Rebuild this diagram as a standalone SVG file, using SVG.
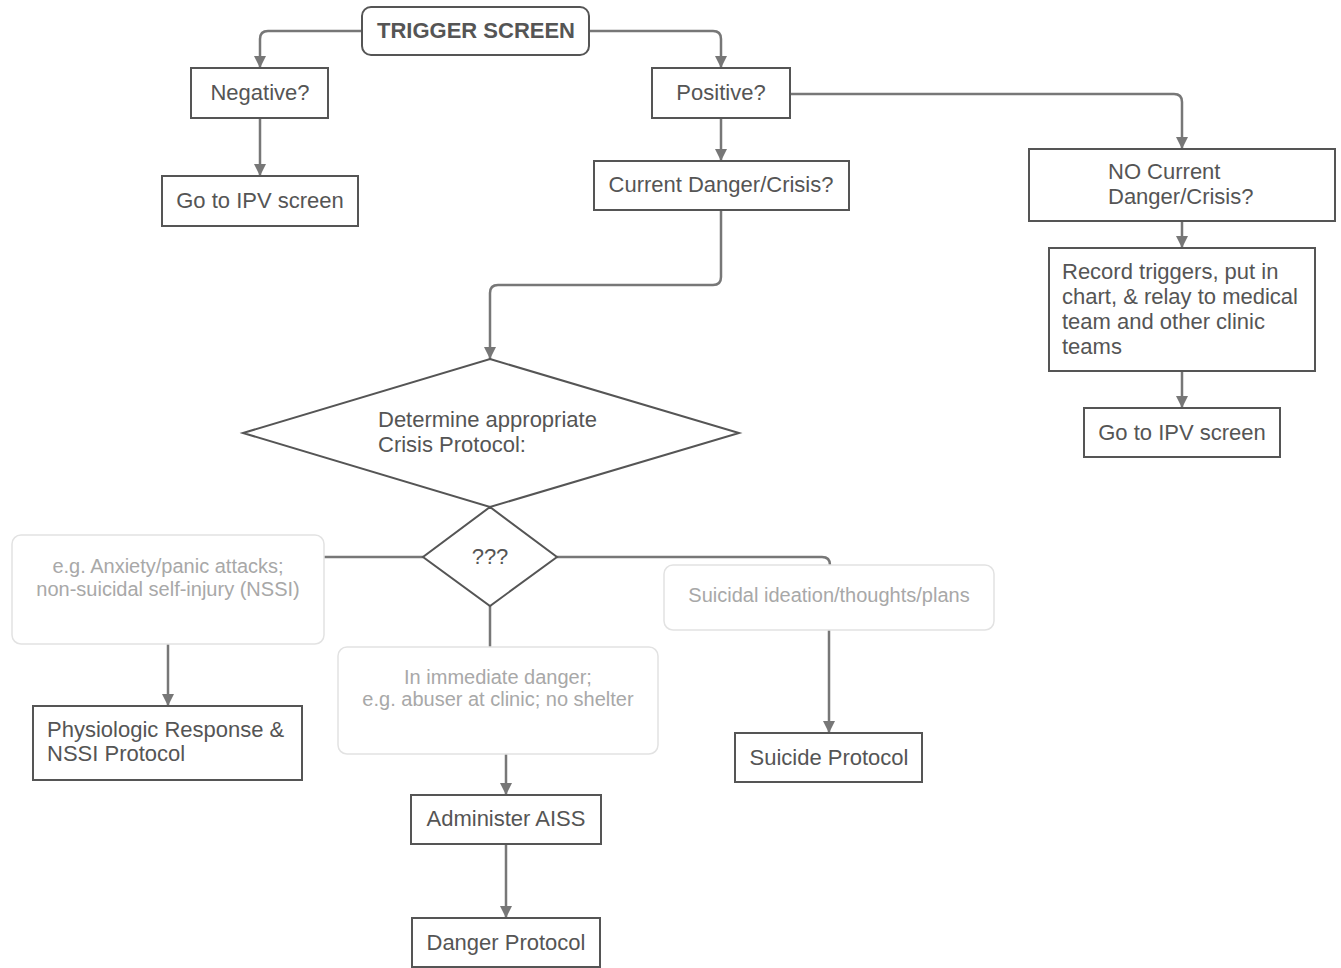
<svg xmlns="http://www.w3.org/2000/svg" width="1341" height="968" viewBox="0 0 1341 968">
<defs>
<style>
.bx{fill:#fff;stroke:#555;stroke-width:2}
.lt{fill:#fff;stroke:#e2e2e2;stroke-width:1.5}
.t{font-family:"Liberation Sans",Arial,sans-serif;font-size:22px;fill:#555}
.tc{text-anchor:middle}
.g{font-family:"Liberation Sans",Arial,sans-serif;font-size:20px;fill:#a8a8a8;text-anchor:middle}
.c{fill:none;stroke:#777;stroke-width:2.5}
</style>
<marker id="ah" markerUnits="userSpaceOnUse" markerWidth="12" markerHeight="12" refX="10" refY="5" orient="auto" viewBox="0 0 10 10">
<path d="M0,0 L10,5 L0,10 z" fill="#777"/>
</marker>
</defs>
<rect width="1341" height="968" fill="#fff"/>
<g id="connectors">
<path class="c" d="M362,31 H268 Q260,31 260,39 V68" marker-end="url(#ah)"/>
<path class="c" d="M589,31 H713 Q721,31 721,39 V68" marker-end="url(#ah)"/>
<path class="c" d="M260,118 V176" marker-end="url(#ah)"/>
<path class="c" d="M721,118 V161" marker-end="url(#ah)"/>
<path class="c" d="M790,94 H1174 Q1182,94 1182,102 V149" marker-end="url(#ah)"/>
<path class="c" d="M1182,221 V248" marker-end="url(#ah)"/>
<path class="c" d="M1182,371 V408" marker-end="url(#ah)"/>
<path class="c" d="M721,210 V277 Q721,285 713,285 H498 Q490,285 490,293 V359" marker-end="url(#ah)"/>
<path class="c" d="M423,557 H324"/>
<path class="c" d="M557,557 H822 Q830,557 830,565"/>
<path class="c" d="M490,606 V648"/>
<path class="c" d="M168,644 V706" marker-end="url(#ah)"/>
<path class="c" d="M506,754 V795" marker-end="url(#ah)"/>
<path class="c" d="M506,844 V918" marker-end="url(#ah)"/>
<path class="c" d="M829,630 V733" marker-end="url(#ah)"/>
</g>
<g id="trigger">
<rect class="bx" x="362" y="7" width="227" height="48" rx="9"/>
<text class="t tc" x="476" y="38" font-weight="bold">TRIGGER SCREEN</text>
</g>
<g id="negative">
<rect class="bx" x="191" y="68" width="137" height="50"/>
<text class="t tc" x="260" y="100">Negative?</text>
</g>
<g id="ipv1">
<rect class="bx" x="162" y="176" width="196" height="50"/>
<text class="t tc" x="260" y="208">Go to IPV screen</text>
</g>
<g id="positive">
<rect class="bx" x="652" y="68" width="138" height="50"/>
<text class="t tc" x="721" y="100">Positive?</text>
</g>
<g id="current">
<rect class="bx" x="594" y="161" width="255" height="49"/>
<text class="t tc" x="721" y="192">Current Danger/Crisis?</text>
</g>
<g id="nocurrent">
<rect class="bx" x="1029" y="149" width="306" height="72"/>
<text class="t" x="1108" y="179">NO Current</text>
<text class="t" x="1108" y="204">Danger/Crisis?</text>
</g>
<g id="record">
<rect class="bx" x="1049" y="248" width="266" height="123"/>
<text class="t" x="1062" y="279">Record triggers, put in</text>
<text class="t" x="1062" y="304">chart, &amp; relay to medical</text>
<text class="t" x="1062" y="329">team and other clinic</text>
<text class="t" x="1062" y="354">teams</text>
</g>
<g id="ipv2">
<rect class="bx" x="1084" y="408" width="196" height="49"/>
<text class="t tc" x="1182" y="440">Go to IPV screen</text>
</g>
<g id="determine">
<polygon class="bx" points="490,359 739,433 490,507 243,433" stroke-width="1.8"/>
<text class="t" x="378" y="427">Determine appropriate</text>
<text class="t" x="378" y="452">Crisis Protocol:</text>
</g>
<g id="qqq">
<polygon class="bx" points="490,507 557,557 490,606 423,557" stroke-width="1.8"/>
<text class="t tc" x="490" y="564">???</text>
</g>
<g id="anxiety">
<rect class="lt" x="12" y="535" width="312" height="109" rx="9"/>
<text class="g" x="168" y="573">e.g. Anxiety/panic attacks;</text>
<text class="g" x="168" y="596">non-suicidal self-injury (NSSI)</text>
</g>
<g id="immediate">
<rect class="lt" x="338" y="647" width="320" height="107" rx="9"/>
<text class="g" x="498" y="684">In immediate danger;</text>
<text class="g" x="498" y="706">e.g. abuser at clinic; no shelter</text>
</g>
<g id="suicidal">
<rect class="lt" x="664" y="565" width="330" height="65" rx="9"/>
<text class="g" x="829" y="602">Suicidal ideation/thoughts/plans</text>
</g>
<g id="physio">
<rect class="bx" x="33" y="706" width="269" height="74"/>
<text class="t" x="47" y="737">Physiologic Response &amp;</text>
<text class="t" x="47" y="761">NSSI Protocol</text>
</g>
<g id="administer">
<rect class="bx" x="411" y="795" width="190" height="49"/>
<text class="t tc" x="506" y="826">Administer AISS</text>
</g>
<g id="danger">
<rect class="bx" x="412" y="918" width="188" height="49"/>
<text class="t tc" x="506" y="950">Danger Protocol</text>
</g>
<g id="suicide">
<rect class="bx" x="735" y="733" width="187" height="49"/>
<text class="t tc" x="829" y="765">Suicide Protocol</text>
</g>
</svg>
